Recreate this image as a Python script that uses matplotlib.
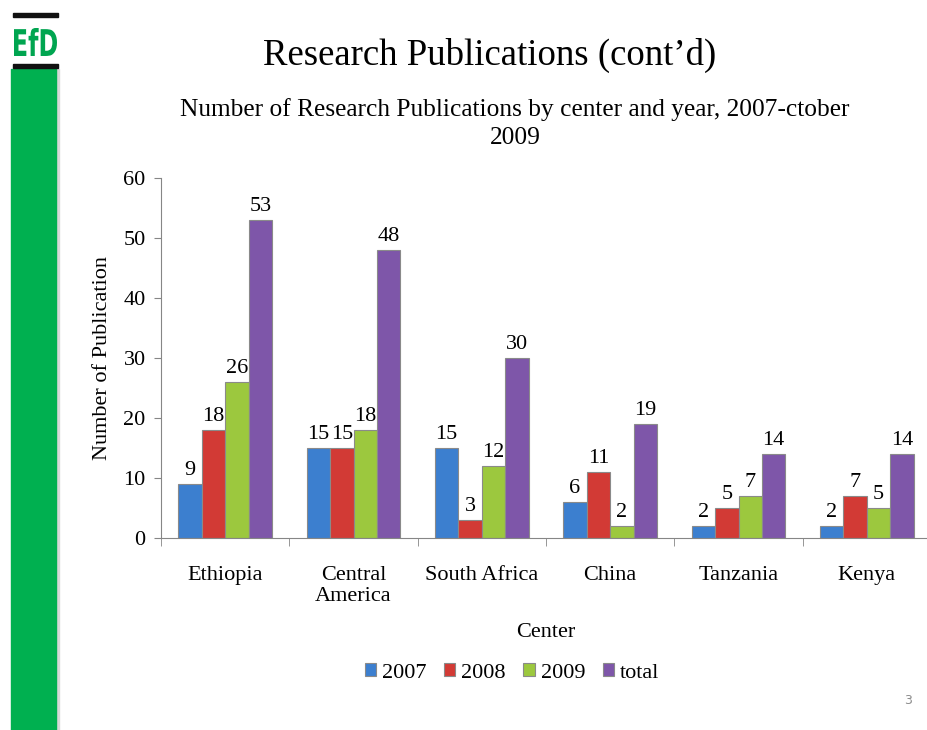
import numpy as np
import matplotlib.pyplot as plt
from matplotlib.patches import Rectangle, PathPatch
from matplotlib.textpath import TextPath
from matplotlib.font_manager import FontProperties
from matplotlib.transforms import Affine2D

plt.rcParams['font.family'] = ['Liberation Serif', 'DejaVu Serif']

centers = ['Ethiopia', 'Central\nAmerica', 'South Africa', 'China', 'Tanzania', 'Kenya']
pubs_2007 = [9, 15, 15, 6, 2, 2]
pubs_2008 = [18, 15, 3, 11, 5, 7]
pubs_2009 = [26, 18, 12, 2, 7, 5]
pubs_total = [53, 48, 30, 19, 14, 14]

series = [('2007', pubs_2007, '#3c7fcf'),
          ('2008', pubs_2008, '#d23a35'),
          ('2009', pubs_2009, '#9cc83e'),
          ('total', pubs_total, '#7e56a9')]

W, H = 927, 730
fs = 16
fig = plt.figure(figsize=(W / 100, H / 100), dpi=100)

# slide decoration: green strip with the EfD logo on top
deco = fig.add_axes([0, 0, 1, 1])
deco.set_xlim(0, W)
deco.set_ylim(H, 0)
deco.axis('off')
deco.add_patch(Rectangle((56, 69), 3, H - 69, color='#d8d8d8'))
deco.add_patch(Rectangle((11, 69), 45, H - 69, color='#00b050'))
deco.add_patch(Rectangle((13, 13), 45, 4, color='#111111'))
deco.add_patch(Rectangle((13, 64), 45, 4, color='#111111'))

# logo letters stretched into a tall narrow box
logo = TextPath((0, 0), 'EfD', size=10,
                prop=FontProperties(family='DejaVu Sans Condensed', weight='bold'))
ext = logo.get_extents()
box_x0, box_x1, box_y0, box_y1 = 14, 57, 28, 56
tr = (Affine2D().translate(-ext.x0, -ext.y0)
      .scale((box_x1 - box_x0) / ext.width, -(box_y1 - box_y0) / ext.height)
      .translate(box_x0, box_y1))
deco.add_patch(PathPatch(tr.transform_path(logo), color='#00a550', lw=0))

deco.text(490, 55, 'Research Publications (cont\u2019d)', fontsize=26.5,
          ha='center', va='center')
deco.text(515, 110, 'Number of Research Publications by center and year, 2007-ctober',
          fontsize=18.3, ha='center', va='center')
deco.text(515, 138, '2009', fontsize=18.3, ha='center', va='center')
deco.text(908, 701, '3', fontsize=9, color='#8c8c8c', family='DejaVu Sans',
          ha='center', va='center')

# chart area
ax = fig.add_axes([161 / W, (H - 538) / H, 770 / W, 360 / H])
x = np.arange(len(centers))
bw = 0.183
for i, (name, vals, col) in enumerate(series):
    bars = ax.bar(x + (i - 1.5) * bw, vals, bw, color=col, edgecolor='#8a8a8a',
                  linewidth=0.8, label=name)
    ax.bar_label(bars, padding=3, fontsize=fs)

ax.set_xlim(-0.5, len(centers) - 0.5)
ax.set_ylim(0, 60)
ax.set_yticks(range(0, 61, 10))
ax.set_xticks(x)
ax.set_xticklabels(centers, fontsize=fs, linespacing=1.15)
ax.set_xticks(np.arange(-0.5, len(centers)), minor=True)
ax.tick_params(axis='x', which='major', length=0, pad=20)
ax.tick_params(axis='x', which='minor', length=6, color='#868686')
ax.tick_params(axis='y', labelsize=fs, length=5, color='#868686', pad=6)
for s in ['top', 'right']:
    ax.spines[s].set_visible(False)
for s in ['left', 'bottom']:
    ax.spines[s].set_color('#868686')
ax.set_xlabel('Center', fontsize=fs, labelpad=12)
ax.set_ylabel('Number of Publication', fontsize=fs, labelpad=8)

fig.legend(loc='center', bbox_to_anchor=(512 / W, (H - 673) / H), ncol=4,
           frameon=False, fontsize=fs, handlelength=0.5, handleheight=0.5,
           handletextpad=0.27, columnspacing=0.8)

fig.savefig('out.png', dpi=100)
